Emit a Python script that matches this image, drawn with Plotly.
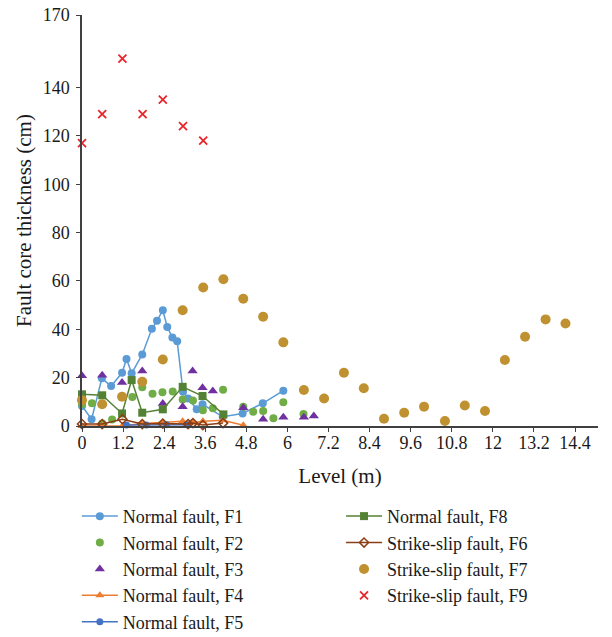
import plotly.graph_objects as go

# ---- data ----
f1_x = [0, 0.28, 0.58, 0.85, 1.17, 1.3, 1.45, 1.76, 2.04, 2.19, 2.36, 2.49, 2.64, 2.78, 2.95, 3.1, 3.35, 3.52, 4.11, 4.69, 5.28, 5.88]
f1_y = [8.3, 2.8, 19.7, 16.5, 22, 27.7, 21.8, 29.6, 40.2, 43.5, 47.9, 41, 36.6, 35.1, 14.2, 11.4, 6.9, 9, 3.8, 5.2, 9.4, 14.6]

f2_x = [0, 0.29, 0.59, 0.88, 1.47, 1.76, 2.06, 2.35, 2.65, 2.94, 3.24, 3.53, 3.82, 4.12, 4.71, 5.0, 5.29, 5.59, 5.88, 6.47]
f2_y = [9, 9.4, 1, 2.7, 12, 16, 13.3, 14, 14.3, 11, 10.5, 6.5, 7.3, 15, 8, 5.9, 6.2, 3.2, 9.8, 5]

f3_x = [0, 0.59, 1.17, 1.76, 2.36, 2.94, 3.23, 3.52, 3.82, 4.71, 5.29, 5.88, 6.48, 6.77]
f3_y = [20.8, 21, 18, 22.7, 9.3, 8, 22.7, 15.8, 14.5, 7.6, 2.8, 3.6, 3.6, 4.1]

f4_x = [0, 0.59, 1.18, 1.76, 2.36, 2.94, 3.24, 3.53, 4.12, 4.71]
f4_y = [0, 0, 0, 1, 1.4, 2, 1.4, 2, 2.4, 0.3]

f5_x = [1.3, 1.88, 2.47, 3.06]
f5_y = [0.4, 0.4, 0.5, 0.5]

f8_x = [0, 0.59, 1.17, 1.45, 1.76, 2.36, 2.94, 3.52, 4.13]
f8_y = [13.1, 12.7, 5.2, 19, 5.5, 6.9, 16.2, 12.4, 4.8]

f6_x = [0, 0.59, 1.18, 1.76, 2.36, 3.1, 3.24, 3.53, 4.12]
f6_y = [0.8, 0.8, 2.8, 0.8, 1.0, 0.8, 1.2, 0.4, 1.2]

f7_x = [0, 0.59, 1.17, 1.76, 2.36, 2.94, 3.54, 4.13, 4.71, 5.29, 5.88, 6.48, 7.07, 7.65, 8.23, 8.82, 9.41, 9.99, 10.6, 11.18, 11.77, 12.35, 12.94, 13.54, 14.12]
f7_y = [10.7, 9, 12.1, 18.3, 27.5, 47.9, 57.3, 60.7, 52.6, 45.2, 34.6, 14.9, 11.4, 22, 15.6, 3, 5.5, 8, 2.1, 8.5, 6.2, 27.3, 36.9, 44.1, 42.4]

f9_x = [0, 0.59, 1.18, 1.77, 2.36, 2.95, 3.54]
f9_y = [117, 129, 152, 129, 135, 124, 118]

x_ticks = [0, 1.2, 2.4, 3.6, 4.8, 6, 7.2, 8.4, 9.6, 10.8, 12, 13.2, 14.4]
x_tick_text = ["0", "1.2", "2.4", "3.6", "4.8", "6", "7.2", "8.4", "9.6", "10.8", "12", "13.2", "14.4"]
y_ticks = [0, 20, 40, 60, 80, 100, 120, 140, 170]

FONT = "Liberation Serif"

fig = go.Figure()

def add(name, x, y, mode, color, symbol, size, legend, line_w=1.5, mline=None):
    marker = dict(color=color, symbol=symbol, size=size)
    if mline:
        marker["line"] = mline
    fig.add_trace(go.Scatter(
        x=x, y=y, name=name, mode=mode, legend=legend,
        line=dict(color=color, width=line_w),
        marker=marker, cliponaxis=False,
    ))

add("Normal fault, F1", f1_x, f1_y, "lines+markers", "#5B9BD5", "circle", 8, "legend")
add("Normal fault, F2", f2_x, f2_y, "markers", "#70AD47", "circle", 8, "legend")
add("Normal fault, F3", f3_x, f3_y, "markers", "#7030A0", "triangle-up", 9, "legend")
add("Normal fault, F4", f4_x, f4_y, "lines+markers", "#ED7D31", "triangle-up", 8, "legend")
add("Normal fault, F5", f5_x, f5_y, "lines+markers", "#4472C4", "circle", 7, "legend")
add("Normal fault, F8", f8_x, f8_y, "lines+markers", "#548235", "square", 8, "legend2")
add("Strike-slip fault, F6", f6_x, f6_y, "lines+markers", "#8A3E14", "diamond-open", 7, "legend2",
    mline=dict(color="#8A3E14", width=1.5))
add("Strike-slip fault, F7", f7_x, f7_y, "markers", "#BF9130", "circle", 10, "legend2")
add("Strike-slip fault, F9", f9_x, f9_y, "markers", "#E8262A", "x-thin-open", 8, "legend2",
    mline=dict(color="#E8262A", width=1.8))

legend_common = dict(
    orientation="v", yanchor="top", xanchor="left",
    font=dict(family=FONT, size=18, color="#1a1a1a"),
    bgcolor="rgba(0,0,0,0)", tracegroupgap=0, itemwidth=36,
)

fig.update_layout(
    width=612, height=637,
    margin=dict(l=82, r=14, t=15, b=211, autoexpand=False),
    paper_bgcolor="white", plot_bgcolor="white",
    font=dict(family=FONT, size=18, color="#1a1a1a"),
    xaxis=dict(
        range=[0, 15.07], tickvals=x_ticks, ticktext=x_tick_text,
        showgrid=False, zeroline=False, showline=True, linecolor="#404040", linewidth=1.5,
        ticks="outside", ticklen=4, tickcolor="#404040", tickwidth=1.3,
        tickfont=dict(family=FONT, size=18), ticklabelstandoff=-4,
        title=dict(text="Level (m)", font=dict(family=FONT, size=21), standoff=16),
    ),
    yaxis=dict(
        range=[0, 170], tickvals=y_ticks,
        showgrid=False, zeroline=False, showline=True, linecolor="#404040", linewidth=1.5,
        ticks="outside", ticklen=4, tickcolor="#404040", tickwidth=1.3,
        tickfont=dict(family=FONT, size=18), ticklabelstandoff=3,
        title=dict(text="Fault core thickness (cm)", font=dict(family=FONT, size=21), standoff=5),
    ),
    legend=dict(x=-0.01, y=-0.175, **legend_common),
    legend2=dict(x=0.502, y=-0.175, **legend_common),
    showlegend=True,
)

fig.write_html("out.html")
